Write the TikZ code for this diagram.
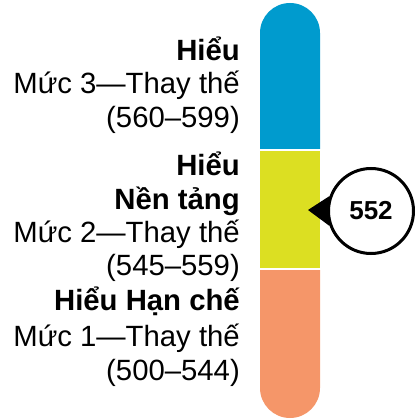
\documentclass[tikz,border=0pt]{standalone}
\usepackage{fontspec}
\setmainfont{Liberation Sans}
\usepackage{tikz}

\definecolor{levelblue}{RGB}{0,155,206}
\definecolor{levelyellow}{RGB}{220,223,34}
\definecolor{levelorange}{RGB}{245,150,105}

\begin{document}
\begin{tikzpicture}[x=1pt, y=-1pt,
    leveltext/.style={anchor=base east, inner sep=0, font=\fontsize{29.3}{34}\selectfont}]
    \useasboundingbox (0,0) rectangle (415,419);
    % bar with the three levels
    \fill[levelblue] (260,149) -- (260,33) arc[start angle=180, end angle=0, radius=30pt] -- (320,149) -- cycle;
    \fill[levelyellow] (260,151) rectangle (320,268);
    \fill[levelorange] (260,270) -- (260,388) arc[start angle=180, end angle=360, radius=30pt] -- (320,270) -- cycle;
    % labels, level 3
    \node[leveltext] (name3) at (240,61) {\textbf{Hiểu}};
    \node[leveltext] (level3) at (240,94) {Mức 3—Thay thế};
    \node[leveltext] (range3) at (240,128) {(560–599)};
    % level 2
    \node[leveltext] (name2a) at (240,176) {\textbf{Hiểu}\ };
    \node[leveltext] (name2b) at (240,209) {\textbf{Nền tảng}};
    \node[leveltext] (level2) at (240,242) {Mức 2—Thay thế};
    \node[leveltext] (range2) at (240,275) {(545–559)};
    % level 1
    \node[leveltext] (name1) at (240,310) {\textbf{Hiểu Hạn chế}};
    \node[leveltext] (level1) at (240,346) {Mức 1—Thay thế};
    \node[leveltext] (range1) at (240,380) {(500–544)};
    % score callout
    \node[circle, draw, line width=3pt, minimum size=85pt, inner sep=0, font=\bfseries\fontsize{26}{28}\selectfont] (score) at (371,211) {552};
    \coordinate (tip) at (308,210);
    \fill (score.160) -- (tip) -- (score.200) -- cycle;
\end{tikzpicture}
\end{document}
